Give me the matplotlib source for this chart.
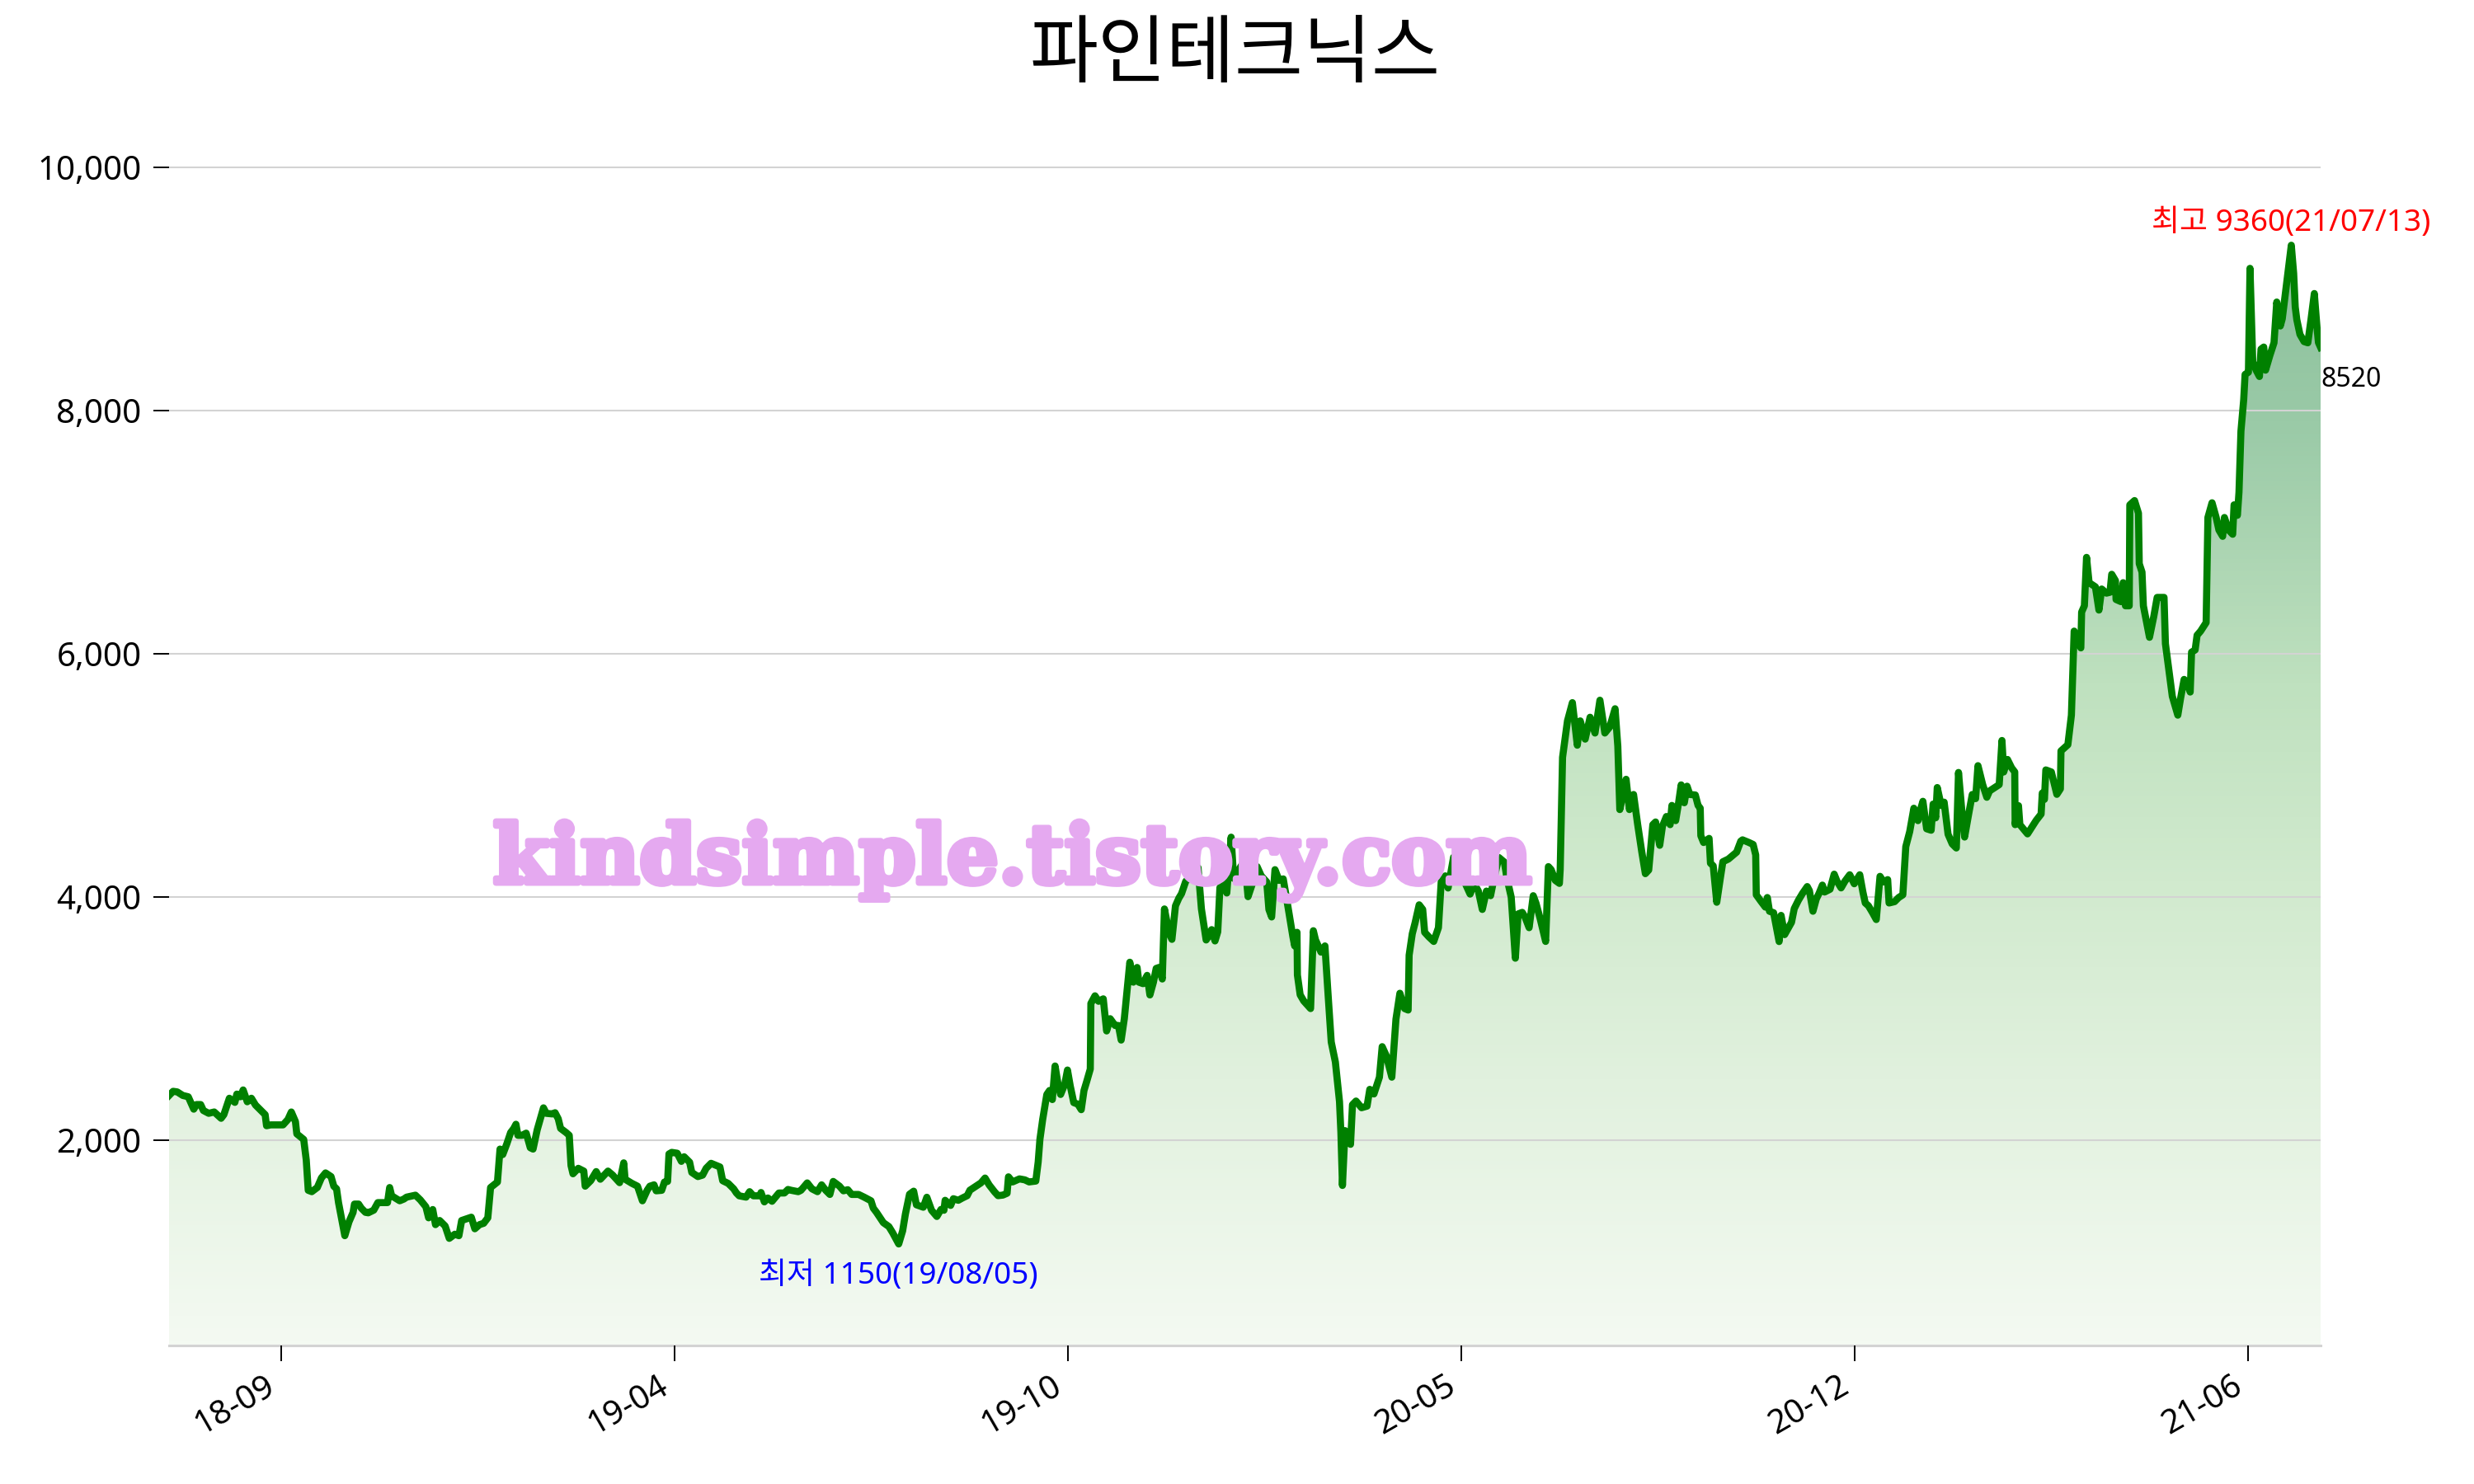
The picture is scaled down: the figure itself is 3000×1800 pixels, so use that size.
import numpy as np
import pandas as pd
import matplotlib

matplotlib.use("Agg")
import matplotlib.pyplot as plt
import matplotlib.dates as mdates
import matplotlib.patheffects as pe
from matplotlib.colors import LinearSegmentedColormap

plt.rcParams["font.family"] = ["Noto Sans", "Noto Sans CJK KR", "DejaVu Sans"]

TITLE = "파인테크닉스"
WATERMARK = "kindsimple.tistory.com"
START = "2018-07-30"

# days since START, closing price
day_offsets = [
    0, 2.1, 4.2, 7.0, 9.8, 12.6, 14.0, 16.1, 17.5, 20.2, 23.0, 26.5, 27.9, 30.7, 33.5, 34.5,
    36.3, 37.7, 39.8, 41.9, 44.0, 46.1, 48.9, 49.6, 51.7, 58.0, 60.5, 62.2, 64.3, 65.0, 68.5,
    69.8, 70.8, 72.6, 75.4, 77.5, 79.6, 82.4, 83.8, 85.2, 86.2, 89.4, 91.5, 93.6, 94.3, 96.4,
    97.8, 99.9, 101.3, 104.1, 106.2, 109.0, 111.1, 112.2, 113.2, 117.3, 119.4, 120.8, 125.3,
    127.8, 130.6, 132.0, 134.1, 135.5, 137.6, 140.4, 142.5, 145.3, 147.4, 148.8, 153.7, 155.5,
    157.9, 160.0, 162.1, 163.5, 167.0, 168.3, 169.7, 171.8, 173.7, 175.3, 176.4, 177.4, 179.5,
    181.6, 183.7, 185.1,
    187.2, 190.4, 191.8, 194.9, 196.3, 197.9, 199.1, 201.9, 203.5, 204.4, 205.4, 208.1, 210.9,
    211.6, 214.4, 217.2, 219.3, 223.2, 225.6, 229.1, 231.2, 231.9, 235.4, 238.2, 240.7, 243.1,
    244.5, 246.6, 247.7, 250.5, 251.9, 253.5, 254.2, 255.6, 258.4, 260.5, 261.9, 264.7, 265.8,
    268.9, 271.3, 273.1, 275.6, 280.1, 281.5, 284.3, 287.1, 288.5, 289.9, 293.4, 295.2, 297.1,
    300.4, 301.0, 302.7, 304.5, 306.6, 310.1, 312.9, 314.7, 316.4, 319.9, 321.3, 324.5, 326.9,
    329.7, 331.8, 333.9, 336.0, 337.7, 340.9, 342.9, 345.1, 347.1, 350.6, 353.4, 356.9, 358.1,
    359.7, 363.2, 366.0, 368.0, 371,
    373.0, 374.4, 376.5, 378.6, 380.0, 383.5, 385.3, 387.7, 390.4, 392.5, 394.0, 394.6, 397.4,
    398.8, 401.3, 403.3, 405.8, 407.2, 410.0, 412.8, 414.9, 417.0, 419.8, 421.5, 424.0, 426.1,
    426.8, 428.9, 432.4, 435.1, 437.3, 440.7, 441.9, 442.8, 444.2, 446.3, 447.7, 449.1, 450.5,
    451.9, 453.3, 455.4, 456.8, 458.2, 460.0, 462.1, 463.8, 465.2, 466.6, 468.4, 468.7, 470.8,
    472.6, 475.0, 476.7, 478.5, 481.0, 482.7, 484.1, 485.7, 486.6, 488.5, 490.3, 492.2, 493.1,
    495.2, 497.3, 498.7, 500.5, 501.9, 503.3, 505.0, 506.1, 508.5, 509.9, 511.7, 513.4, 514.8,
    516.9, 519.0, 521.8, 523.2, 524.9, 527.3, 528.5, 530.1, 531.8, 533.2, 534.3, 536.4, 537.8,
    540.0, 541.3, 544.1, 546.9, 548.6,
    551.1, 553.2, 555.3, 558.1, 559.2, 560.6, 562.3, 564.4, 566.5, 568.6, 571.4, 572.3, 573.5,
    573.7, 575.1, 576.9, 580.4, 581.8, 582.9, 585.7, 587.7, 589.1, 590.9, 593.0, 595.1, 595.8,
    596.6, 597.9, 600.7, 601.7, 603.5, 606.3, 609.1, 610.5, 612.6, 615.4, 616.8, 618.9, 621.7,
    623.8, 625.8, 628.2, 630.0, 630.5, 632.1, 633.5, 635.6, 637.4, 638.4, 640.5, 643.0, 645.4,
    646.8, 648.9, 650.3, 651.7, 653.1, 655.5, 658.7, 661.5, 663.5, 665.7, 667.7, 669.8, 671.9,
    673.3, 676.1, 678.9, 680.3, 682.4, 684.5, 685.9, 688.0, 689.4, 691.5, 693.6, 695.0, 697.1,
    699.9, 701.3, 702.7, 704.8, 706.9, 707.3,
    708.5, 711.0, 713.5, 716.0, 717.5, 720.0, 722.5, 725.0, 727.5, 730.0, 732.5, 735.2, 736.6,
    737.6,
    739.0, 740.8, 742.5, 744.6, 746.7, 748.8, 750.6, 752.3, 754.4, 755.8, 757.9, 759.3, 761.3,
    763.2, 764.1, 766.0, 767.4, 768.8, 770.4, 771.8, 773.2, 776.0, 777.4, 778.5, 778.8, 780.2,
    783.0, 783.7, 785.1, 786.9, 788.6, 790.0, 792.8, 797.0, 799.1, 800.0, 803.3, 805.4, 806.7,
    807.0, 809.5, 811.6, 812.6, 813.7, 815.8, 818.6, 819.6, 821.4, 824.9, 826.3, 828.4, 830.5,
    832.9, 834.0, 835.8, 837.5, 838.9, 840.6, 841.7, 844.5, 846.6, 848.0, 850.1, 852.1, 854.5,
    856.8, 859.6, 861.2, 862.4, 864.0, 866.1, 868.0, 869.9, 871.7, 873.8, 874.5, 877.3, 879.4,
    881.5, 883.0, 885.0, 887.1, 889.2, 890.3, 891.7, 893.6, 895.9, 896.9, 898.2, 899.0, 901.0,
    902.5, 904.5, 906.6, 908.7, 909.8, 911.5, 912.9, 915.0, 916.8, 918.5,
    919.7, 922.1, 924.2, 925.6, 930.5, 931.9, 932.8, 934.7, 936.8, 938.4, 938.6, 940.3, 941.0,
    944.9, 949.3, 951.8, 952.4, 953.5, 954.2, 957.0, 959.8, 961.6, 961.9, 965.4, 967.2, 968.6,
    970.3, 972.0, 972.4, 973.8, 974.9, 976.2, 979.4, 981.2, 982.6, 985.0, 986.8, 987.7, 989.6,
    989.9, 992.4, 993.5, 994.7, 996.6, 996.9, 999.3, 1001.3, 1001.7, 1003.1, 1003.8, 1006.9,
    1009.1, 1010.8, 1014.3, 1015.0, 1016.7, 1018.5, 1021.3, 1022.7, 1024.5, 1026.2, 1027.6,
    1028.3, 1030.1, 1031.1, 1032.9, 1035.7, 1036.6, 1038.7, 1040.8, 1042.2, 1044.1, 1045.0,
    1047.1, 1049.2, 1049.9, 1051.6, 1052.4, 1053.4, 1054.8, 1055.5, 1057.2, 1058.0, 1059.4,
    1061.1, 1062.8, 1063.6, 1065.0, 1065.9, 1068.1, 1070.2, 1071.6, 1073.4, 1074.4, 1079,
    1080.2, 1081.0, 1081.8, 1083.4, 1085.5, 1087.4, 1089.0, 1090.7, 1092.1, 1092.8, 1093.9,
]
prices = [
    2370, 2405, 2400, 2371, 2360, 2258, 2296, 2296, 2247, 2224, 2235, 2183, 2213, 2348, 2314, 2382,
    2360, 2416, 2319, 2348, 2292, 2258, 2213, 2122, 2129, 2129, 2174, 2235, 2156, 2055, 2009,
    1840, 1591, 1580, 1614, 1693, 1734, 1704, 1625, 1603, 1490, 1218, 1331, 1410, 1478, 1478,
    1444, 1410, 1406, 1428, 1490, 1490, 1490, 1614, 1546, 1505, 1519, 1535, 1551,
    1512, 1456, 1365, 1433, 1309, 1343, 1298, 1196, 1230, 1218, 1343, 1370, 1275,
    1309, 1320, 1365, 1614, 1659, 1930, 1885, 1975, 2066, 2100, 2134, 2043, 2043,
    2061, 1941, 1930,
    2088, 2269, 2224, 2219, 2229, 2179, 2100, 2066, 2043, 1795, 1727, 1772, 1749,
    1625, 1670, 1745, 1682, 1749, 1716, 1654, 1817, 1682, 1648, 1625, 1505, 1591,
    1625, 1636, 1587, 1591, 1659, 1664, 1890, 1903, 1896, 1829, 1867, 1822, 1738,
    1704, 1716, 1772, 1813, 1783, 1670, 1648, 1603, 1569, 1546, 1535, 1580, 1546,
    1546, 1573, 1496, 1528, 1501, 1569, 1569, 1598, 1591, 1580, 1591, 1652, 1603,
    1580, 1636, 1591, 1557, 1664, 1625, 1587, 1596, 1557, 1557, 1535, 1505, 1444,
    1410, 1325, 1293, 1240, 1150,
    1258, 1396, 1559, 1584, 1472, 1452, 1534, 1427, 1376, 1434, 1427, 1509, 1467,
    1522, 1509, 1527, 1547, 1592, 1622, 1652, 1692, 1635, 1577, 1547, 1552, 1567,
    1702, 1660, 1685, 1677, 1660, 1667, 1823, 2011, 2174, 2379, 2412, 2337, 2613,
    2475, 2379, 2462, 2580, 2450, 2312, 2299, 2254, 2412, 2487, 2588, 3127, 3190,
    3145, 3165, 2901, 3002, 2946, 2946, 2826, 3002, 3152, 3466, 3302, 3423, 3302,
    3290, 3358, 3197, 3302, 3415, 3423, 3328, 3904, 3704, 3654, 3929, 3992, 4030,
    4130, 4168, 4205, 4243, 3904, 3649, 3679, 3734, 3641, 3716, 4080, 4105, 4035,
    4494, 4155, 4230, 4306, 4005,
    4126, 4252, 4176, 4126, 3900, 3838, 4227, 4139, 4151, 3951, 3675, 3600, 3712,
    3361, 3198, 3148, 3085, 3725, 3650, 3549, 3600, 3248, 2810, 2646, 2320, 2070,
    1631, 2082, 1969, 2295, 2325, 2270, 2283, 2421, 2383, 2521, 2772, 2697, 2521,
    2998, 3211, 3085, 3073, 3524, 3700, 3788, 3938, 3900, 3712, 3675, 3637, 3750,
    4126, 4176, 4076, 4201, 4330, 4180, 4126, 4026, 4114, 4051, 3900, 4051, 4013,
    4126, 4327, 4289, 4151, 4001, 3499, 3863, 3876, 3838, 3750, 4013, 3951, 3825,
    3637, 4252, 4227, 4139, 4114, 4227,
    5150, 5450, 5600, 5250, 5450, 5300, 5480, 5350, 5620, 5350, 5400, 5550, 5241,
    4721,
    4823, 4970, 4721, 4845, 4597, 4371, 4194, 4224, 4597, 4619, 4427, 4585, 4664,
    4597, 4755, 4630, 4766, 4924, 4777, 4913, 4845, 4841, 4755, 4732, 4506, 4450,
    4484, 4280, 4258, 3959, 4145, 4292, 4314, 4371, 4461, 4472, 4450, 4434, 4348,
    4020, 3964, 3919, 3998, 3885, 3873, 3636, 3851, 3693, 3794, 3907, 3975, 4032,
    4088, 4054, 3885, 3986, 4032, 4100, 4043, 4066, 4190, 4133, 4077, 4133, 4185,
    4111, 4185, 4043, 3953, 3930, 3873, 3817, 4172, 4126, 4145, 3953, 3964, 3998,
    4020, 4416, 4540, 4732, 4630, 4710, 4789, 4563, 4551, 4766, 4653, 4902, 4755,
    4782, 4518, 4439, 4405, 5026, 4710, 4495, 4687, 4845, 4811,
    5082, 4926, 4822, 4874, 4926, 5289, 5030, 5133, 5064, 5030, 4597, 4753, 4597,
    4521, 4632, 4684, 4857, 4805, 5047, 5030, 4846, 4891, 5203, 5254, 5497, 6188,
    6119, 6050, 6344, 6396, 6794, 6586, 6552, 6361, 6534, 6500, 6507, 6655, 6603,
    6448, 6430, 6586, 6396, 6396, 7226, 7261, 7157, 6742, 6673, 6396, 6137,
    6310, 6465, 6465, 6085, 5877, 5652, 5497, 5635, 5791, 5756, 5687,
    6015, 6033, 6154, 6188, 6258, 7122, 7243, 7122, 7019, 6967, 7122,
    7019, 6984, 7226, 7140, 7330, 7832, 8091, 8298, 8316, 9170, 8402,
    8333, 8281, 8506, 8523, 8333, 8454, 8558, 8893, 8696, 8755, 9360,
    9129, 8852, 8748, 8627, 8568, 8558, 8748, 8963, 8679, 8560, 8520,
]

tick_dates = ["2018-09-25", "2019-04-13", "2019-10-30", "2020-05-17", "2020-12-03", "2021-06-21"]
y_ticks = [2000, 4000, 6000, 8000, 10000]
Y_FLOOR = 315
Y_TOP = 10300

LINE = "#008000"
GRID = "#d3d3d3"
MARK = "#e5a9f0"
FILL_CMAP = LinearSegmentedColormap.from_list(
    "fillgrad",
    [(0.0, "#f4faf2"), (0.24, "#e1f1de"), (0.42, "#d1eace"), (0.6, "#bfe1bf"),
     (0.84, "#9acaa7"), (1.0, "#8bbf9b")],
)

dates = pd.Timestamp(START) + pd.to_timedelta(day_offsets, unit="D")
x = mdates.date2num(dates.values)
y = np.array(prices, dtype=float)

fig = plt.figure(figsize=(15, 9), dpi=200)
ax = fig.add_axes([0.0683, 0.0933, 0.8697, 0.8185])

# gradient under the curve: a vertical ramp clipped to the filled area
area = ax.fill_between(x, y, Y_FLOOR, facecolor="none", edgecolor="none")
ramp = np.linspace(0, 1, 256).reshape(-1, 1)
im = ax.imshow(ramp, cmap=FILL_CMAP, origin="lower", aspect="auto",
               extent=[x[0], x[-1], Y_FLOOR, y.max()], zorder=1)
im.set_clip_path(area.get_paths()[0], transform=area.get_transform())

ax.plot(x, y, color=LINE, lw=3.1, zorder=3, solid_joinstyle="round")

ax.set_xlim(x[0], x[-1])
ax.set_ylim(Y_FLOOR, Y_TOP)

# axes styling
ax.set_axisbelow(False)
ax.yaxis.grid(True, color=GRID, lw=0.75)
for side in ("top", "right", "left"):
    ax.spines[side].set_visible(False)
ax.spines["bottom"].set_color(GRID)
ax.spines["bottom"].set_linewidth(1.1)

ax.set_yticks(y_ticks)
ax.yaxis.set_major_formatter(plt.FuncFormatter(lambda v, _p: "{:,.0f}".format(v)))
tick_x = mdates.date2num(pd.to_datetime(tick_dates).values)
ax.set_xticks(tick_x)
ax.set_xticklabels([pd.Timestamp(d).strftime("%y-%m") for d in tick_dates],
                   rotation=30, ha="right")
ax.tick_params(axis="both", length=7, width=0.7, color="black", labelsize=14.5)
ax.tick_params(axis="y", pad=5)

# extreme / last value notes
i_max = int(np.argmax(y))
i_min = int(np.argmin(y))
ax.annotate("최고 %d(%s)" % (y[i_max], dates[i_max].strftime("%y/%m/%d")),
            (x[i_max], y[i_max]), xytext=(0, 3), textcoords="offset points",
            ha="center", va="bottom", color="red", fontsize=13.3, zorder=5)
ax.annotate("최저 %d(%s)" % (y[i_min], dates[i_min].strftime("%y/%m/%d")),
            (x[i_min], y[i_min]), xytext=(0, -7.5), textcoords="offset points",
            ha="center", va="top", color="blue", fontsize=13.3, zorder=5)
ax.annotate("%d" % y[-1], (x[-1], y[-1]), xytext=(0, -8), textcoords="offset points",
            ha="left", va="top", color="black", fontsize=11.5, annotation_clip=False)

fig.text(0.4993, 0.961, TITLE, fontsize=32.5, ha="center", va="center")
fig.text(0.4093, 0.405, WATERMARK, family="DejaVu Serif", weight="bold",
         fontsize=35.5, color=MARK, ha="center", va="baseline", zorder=10,
         path_effects=[pe.withStroke(linewidth=2.5, foreground=MARK)])

fig.savefig("out.png", dpi=200, facecolor="white")
